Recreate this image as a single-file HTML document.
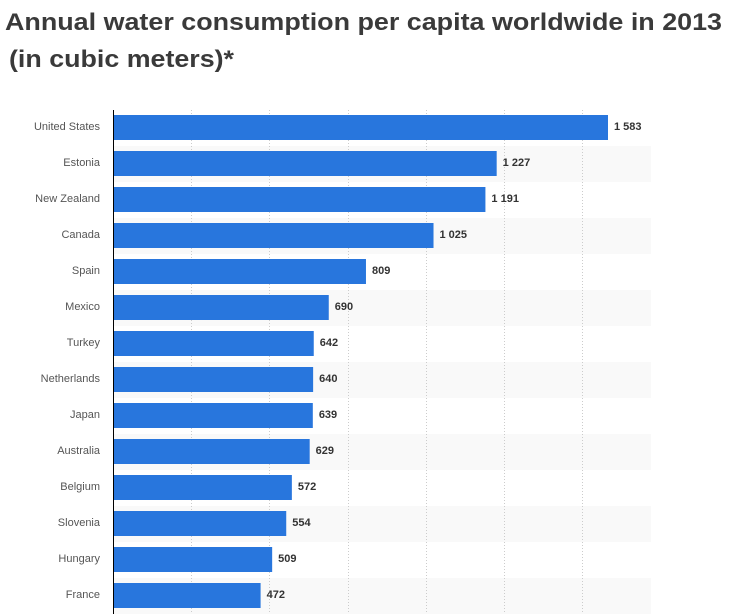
<!DOCTYPE html>
<html><head><meta charset="utf-8"><style>
body{margin:0;background:#fff;}
svg{display:block;font-family:"Liberation Sans",sans-serif;}
</style></head><body>
<svg id="chart" width="735" height="614">
<text x="5" y="30" font-size="24" font-weight="bold" fill="#3a3a3a" textLength="717" lengthAdjust="spacingAndGlyphs">Annual water consumption per capita worldwide in 2013</text>
<text x="9" y="67" font-size="24" font-weight="bold" fill="#3a3a3a" textLength="225" lengthAdjust="spacingAndGlyphs">(in cubic meters)*</text>
<g id="bands"></g><g id="grid"></g><g id="bars"></g>
<line x1="113.5" y1="110" x2="113.5" y2="614" stroke="#000" stroke-width="1"/>
</svg>
<script>
const categories=["United States","Estonia","New Zealand","Canada","Spain","Mexico","Turkey","Netherlands","Japan","Australia","Belgium","Slovenia","Hungary","France"];
const values=[1583,1227,1191,1025,809,690,642,640,639,629,572,554,509,472];
const gridTicks=[250,500,750,1000,1250,1500];
const NS="http://www.w3.org/2000/svg";
const x0=113, scale=(608-113)/1583, plotTop=110, pitch=36, plotRight=651;
const xs=v=>x0+v*scale;
const fmt=v=>String(v).replace(/\B(?=(\d{3})+(?!\d))/g," ");
function mk(t,a,p){const e=document.createElementNS(NS,t);for(const k in a)e.setAttribute(k,a[k]);p.appendChild(e);return e;}
const bands=document.getElementById('bands'),grid=document.getElementById('grid'),bars=document.getElementById('bars');
categories.forEach((c,i)=>{
  const y=plotTop+i*pitch;
  if(i%2===1){const b=mk('rect',{x:x0,y:y,width:plotRight-x0,height:pitch,fill:'#f9f9f9'},bands);
    
    }
  const r=mk('rect',{x:x0,y:y+5,width:xs(values[i])-x0,height:25,fill:'#2876dd'},bars);
  
  
  const l=mk('text',{x:100,y:y+20,'font-size':11,fill:'#555','text-anchor':'end'},bars);
  l.textContent=c;
  
  
  const v=mk('text',{x:xs(values[i])+6,y:y+20,'font-size':11,'font-weight':'bold',fill:'#333'},bars);
  v.textContent=fmt(values[i]);
  
  
});
gridTicks.forEach(t=>{
  const g=mk('line',{x1:Math.round(xs(t))+0.5,y1:plotTop,x2:Math.round(xs(t))+0.5,y2:614,stroke:'#ccc','stroke-dasharray':'1,2'},grid);
  
  
});
</script>
</body></html>
